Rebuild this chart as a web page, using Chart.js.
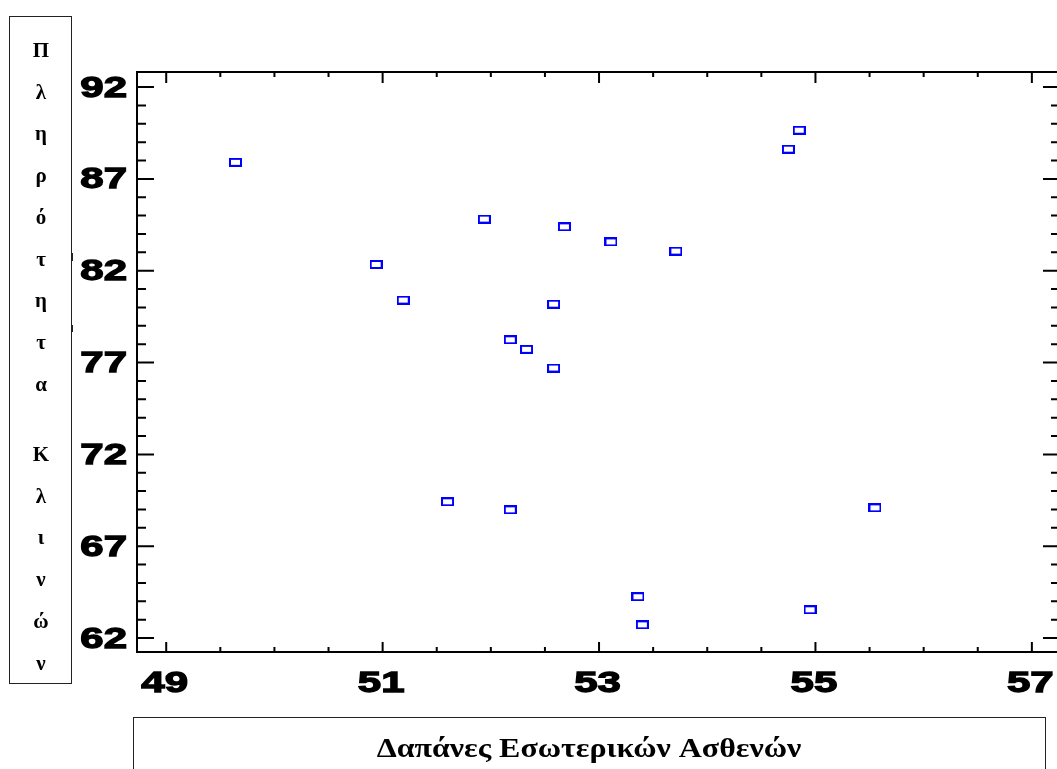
<!DOCTYPE html>
<html>
<head>
<meta charset="utf-8">
<script src="https://cdn.jsdelivr.net/npm/chart.js@4/dist/chart.umd.min.js"></script>
<style>
  html, body { margin: 0; padding: 0; background: #fff; overflow: hidden; }
  #wrap { width: 1057px; height: 769px; overflow: hidden; }
</style>
</head>
<body>
<div id="wrap"><canvas id="myChart" width="1062" height="769"></canvas></div>
<script>
// Δαπάνες Εσωτερικών Ασθενών (x) / Πληρότητα Κλινών (y)
var costs = [49.64, 50.94, 51.19, 51.94, 52.68, 53.11, 53.71, 52.58, 52.18, 52.33,
             52.58, 54.75, 54.85, 51.60, 52.18, 55.55, 53.36, 53.40, 54.95];
var occupancy = [87.90, 82.34, 80.40, 84.81, 84.39, 83.57, 83.07, 80.18, 78.24, 77.72,
                 76.70, 88.62, 89.65, 69.42, 68.98, 69.09, 64.25, 62.72, 63.54];

var xTicks = [49, 51, 53, 55, 57];
var yTicks = [62, 67, 72, 77, 82, 87, 92];
var xMinorStep = 0.5;
var yMinorStep = 1;

var xTitle = 'Δαπάνες Εσωτερικών Ασθενών';
var yTitle = 'Πληρότητα Κλινών';

// hollow blue rectangle used as the point marker
var marker = document.createElement('canvas');
marker.width = 13;
marker.height = 9;
var mctx = marker.getContext('2d');
mctx.strokeStyle = '#0000ff';
mctx.lineWidth = 2;
mctx.strokeRect(1, 1, 11, 7);

var points = costs.map(function (c, i) { return { x: c, y: occupancy[i] }; });

// heavy, wide digits like the original plot
function wideText(ctx, txt, x, y, align) {
  ctx.save();
  ctx.translate(x, y);
  ctx.scale(1.4, 1);
  ctx.textAlign = align;
  ctx.fillText(txt, 0, 0);
  ctx.strokeText(txt, 0, 0);
  ctx.restore();
}

// frame, inward ticks, labels and the two title boxes
var framePlugin = {
  id: 'frame',
  afterDraw: function (chart) {
    var ctx = chart.ctx;
    var a = chart.chartArea;
    var sx = chart.scales.x;
    var sy = chart.scales.y;
    var v, p, i;

    ctx.save();
    ctx.strokeStyle = '#000';
    ctx.lineWidth = 2;
    ctx.strokeRect(a.left, a.top, a.right - a.left, a.bottom - a.top);

    ctx.beginPath();
    // x minor + major ticks (bottom and top)
    for (v = xTicks[0]; v <= xTicks[xTicks.length - 1] + 0.001; v += xMinorStep) {
      p = sx.getPixelForValue(v);
      var major = xTicks.indexOf(Math.round(v * 100) / 100) >= 0;
      ctx.moveTo(p, a.bottom);
      ctx.lineTo(p, a.bottom - (major ? 10 : 5));
      ctx.moveTo(p, a.top);
      ctx.lineTo(p, a.top + (major ? 11 : 5));
    }
    // y minor + major ticks (left and right)
    for (v = yTicks[0]; v <= yTicks[yTicks.length - 1] + 0.001; v += yMinorStep) {
      p = sy.getPixelForValue(v);
      var majorY = yTicks.indexOf(v) >= 0;
      ctx.moveTo(a.left, p);
      ctx.lineTo(a.left + (majorY ? 17 : 9), p);
      ctx.moveTo(a.right, p);
      ctx.lineTo(a.right - (majorY ? 17 : 9), p);
    }
    ctx.stroke();

    // tick labels
    ctx.fillStyle = '#000';
    ctx.lineWidth = 1.3;
    ctx.font = 'bold 30px "Liberation Sans", Arial, sans-serif';
    ctx.textBaseline = 'alphabetic';
    for (i = 0; i < yTicks.length; i++) {
      p = sy.getPixelForValue(yTicks[i]);
      wideText(ctx, String(yTicks[i]), 127, p + 9.5, 'right');
    }
    for (i = 0; i < xTicks.length; i++) {
      p = sx.getPixelForValue(xTicks[i]);
      wideText(ctx, String(xTicks[i]), p - 1.5, 692, 'center');
    }

    // title boxes
    ctx.strokeStyle = '#222';
    ctx.lineWidth = 1;
    ctx.strokeRect(9.5, 16.5, 62, 667);
    ctx.strokeRect(133.5, 717.5, 912, 70);

    // small stray marks beside the y labels
    ctx.beginPath();
    ctx.moveTo(72.5, 253); ctx.lineTo(72.5, 261);
    ctx.moveTo(72.5, 325); ctx.lineTo(72.5, 332);
    ctx.stroke();

    // y title, one letter per line
    ctx.font = 'bold 21px "Liberation Serif", "Times New Roman", serif';
    ctx.textAlign = 'center';
    var y = 57;
    for (i = 0; i < yTitle.length; i++) {
      var ch = yTitle.charAt(i);
      if (ch === ' ') { y += 28.7; continue; }
      ctx.fillText(ch, 41, y);
      y += 41.7;
    }

    // x title
    ctx.font = 'bold 28px "Liberation Serif", "Times New Roman", serif';
    ctx.translate(589, 757);
    ctx.scale(1.14, 1);
    ctx.fillText(xTitle, 0, 0);
    ctx.restore();
  }
};

var ctx = document.getElementById('myChart').getContext('2d');
var myChart = new Chart(ctx, {
  type: 'scatter',
  data: {
    datasets: [{
      label: yTitle,
      data: points,
      pointStyle: marker,
      pointRadius: 6,
      showLine: false
    }]
  },
  options: {
    responsive: false,
    animation: false,
    events: [],
    layout: { autoPadding: false, padding: { left: 137, top: 72, right: 2, bottom: 117 } },
    plugins: { legend: { display: false }, tooltip: { enabled: false } },
    scales: {
      x: { type: 'linear', min: 48.73, max: 57.26, display: false },
      y: { type: 'linear', min: 61.24, max: 92.82, display: false }
    }
  },
  plugins: [framePlugin]
});
</script>
</body>
</html>
